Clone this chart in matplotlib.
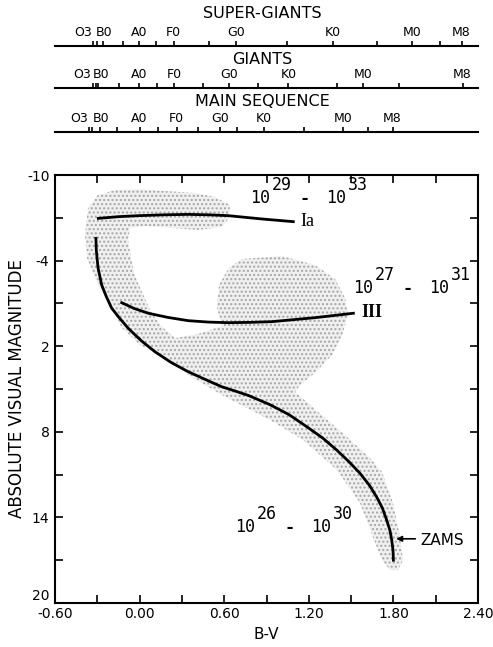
import numpy as np
import matplotlib
matplotlib.use('Agg')
import matplotlib.pyplot as plt

plt.rcParams['axes.unicode_minus'] = False
plt.rcParams['hatch.linewidth'] = 1.0

# ZAMS (zero age main sequence), B-V vs absolute visual magnitude
zams_bv = [-0.31, -0.307, -0.295, -0.269, -0.235, -0.198, -0.14, -0.08, 0.01,
           0.109, 0.225, 0.345, 0.47, 0.582, 0.68, 0.771, 0.925, 1.06, 1.185,
           1.30, 1.398, 1.485, 1.563, 1.63, 1.68, 1.722, 1.752, 1.775, 1.788,
           1.797, 1.80]
zams_mv = [-5.56, -4.7, -3.5, -2.29, -1.45, -0.66, 0.06, 0.75, 1.6,
           2.39, 3.15, 3.79, 4.35, 4.84, 5.15, 5.45, 6.1, 6.8, 7.64,
           8.45, 9.28, 10.1, 10.91, 11.75, 12.55, 13.35, 14.18, 14.9, 15.58,
           16.3, 17.0]

# supergiant (Ia) and giant (III) tracks
ia_bv = [-0.293, -0.15, -0.009, 0.17, 0.345, 0.49, 0.629, 0.866, 1.09]
ia_mv = [-6.96, -7.08, -7.15, -7.21, -7.24, -7.21, -7.15, -6.92, -6.73]
iii_bv = [-0.127, -0.04, 0.062, 0.20, 0.345, 0.49, 0.629, 0.78, 0.937, 1.244, 1.516]
iii_mv = [-1.05, -0.65, -0.31, -0.02, 0.21, 0.31, 0.35, 0.33, 0.28, 0.0, -0.31]

# outline of the stippled region where stars are found
shade_bv = [-0.366, -0.295, -0.174, -0.011, 0.18, 0.393, 0.535, 0.641, 0.634,
            0.584, 0.414, 0.23, 0.038, -0.068, -0.082, -0.061, -0.033, 0.017,
            0.074, 0.145, 0.251, 0.414, 0.584, 0.549, 0.563, 0.634, 0.726,
            1.01, 1.244, 1.386, 1.457, 1.478, 1.435, 1.365, 1.251, 1.138,
            1.102, 1.209, 1.471, 1.634, 1.719, 1.797, 1.847, 1.868, 1.833,
            1.776, 1.719, 1.655, 1.563, 1.40, 1.159, 0.925, 0.57, 0.336,
            0.201, 0.003, -0.125, -0.196, -0.295, -0.373, -0.387]
shade_mv = [-7.69, -8.60, -8.95, -9.02, -8.88, -8.74, -8.46, -7.90, -6.99,
            -6.36, -6.15, -6.29, -6.43, -6.29, -5.44, -4.18, -2.92, -1.80,
            -0.54, 0.51, 1.43, 1.14, 0.58, -0.68, -2.29, -3.48, -4.11,
            -4.32, -3.69, -2.71, -1.38, -0.19, 1.28, 2.62, 3.81, 4.72,
            5.21, 6.12, 8.36, 9.84, 10.82, 12.99, 15.37, 16.99, 17.69,
            17.69, 16.99, 15.37, 12.99, 10.68, 8.57, 7.17, 5.35, 3.95,
            2.83, 1.92, 0.72, -0.68, -2.29, -4.18, -5.79]

# spectral type scales (B-V of tick marks and of the labels)
sg_ticks = [-0.328, -0.30, -0.257, -0.12, -0.002, 0.116, 0.244, 0.494, 0.684,
            1.043, 1.374, 1.681, 1.93, 2.13, 2.284]
sg_names = ['O3', 'B0', 'A0', 'F0', 'G0', 'K0', 'M0', 'M8']
sg_label_bv = [-0.40, -0.25, 0.0, 0.24, 0.685, 1.37, 1.93, 2.28]

g_ticks = [-0.328, -0.311, -0.293, -0.144, -0.002, 0.126, 0.244, 0.452, 0.636,
           0.842, 1.055, 1.398, 1.587, 1.842, 2.291]
g_names = ['O3', 'B0', 'A0', 'F0', 'G0', 'K0', 'M0', 'M8']
g_label_bv = [-0.41, -0.27, 0.0, 0.244, 0.636, 1.055, 1.587, 2.29]

ms_ticks = [-0.357, -0.34, -0.28, -0.158, 0.003, 0.128, 0.263, 0.416, 0.57,
            0.693, 0.882, 1.168, 1.44, 1.618, 1.795]
ms_names = ['O3', 'B0', 'A0', 'F0', 'G0', 'K0', 'M0', 'M8']
ms_label_bv = [-0.43, -0.27, 0.0, 0.26, 0.57, 0.88, 1.44, 1.79]

# flux ranges written on the diagram
flux_labels = [('29', '33'), ('27', '31'), ('26', '30')]
flux_pos = [(0.783, -8.39), (1.513, -2.08), (0.677, 14.67)]


def power_range(ax, x, y, lo, hi):
    kw = dict(textcoords='offset points', va='center', fontsize=12,
              family='DejaVu Sans Mono')
    ax.annotate('10', (x, y), xytext=(0, 0), ha='left', **kw)
    ax.annotate(lo, (x, y), xytext=(15.5, 9.4), ha='left', **kw)
    ax.annotate('-', (x, y), xytext=(39.5, -1), ha='center', fontweight='bold', **kw)
    ax.annotate('10', (x, y), xytext=(54.5, 0), ha='left', **kw)
    ax.annotate(hi, (x, y), xytext=(70.5, 9.4), ha='left', **kw)


fig = plt.figure(figsize=(4.93, 6.47), dpi=100)
ax = fig.add_axes([0.1116, 0.068, 0.858, 0.6615])

ax.fill(shade_bv, shade_mv, facecolor='#f0f0f0', edgecolor='#a6a6a6',
        hatch='....', lw=0)
ax.plot(zams_bv, zams_mv, color='k', lw=2, solid_joinstyle='round')
ax.plot(ia_bv, ia_mv, color='k', lw=2, solid_joinstyle='round')
ax.plot(iii_bv, iii_mv, color='k', lw=2, solid_joinstyle='round')

ax.text(1.138, -6.75, 'Ia', family='Liberation Serif', fontsize=13,
        ha='left', va='center')
ax.text(1.57, -0.33, 'III', family='Liberation Serif', fontsize=13,
        fontweight='bold', ha='left', va='center')

for (lo, hi), (x, y) in zip(flux_labels, flux_pos):
    power_range(ax, x, y, lo, hi)

ax.annotate('', xy=(1.80, 15.5), xytext=(1.975, 15.5),
            arrowprops=dict(arrowstyle='-|>', color='k', lw=1.2, mutation_scale=8))
ax.text(1.99, 15.6, 'ZAMS', fontsize=11, ha='left', va='center')

ax.set_xlim(-0.6, 2.4)
ax.set_ylim(20, -10)
xt = np.round(np.arange(-0.6, 2.41, 0.3), 2)
ax.set_xticks(xt)
ax.set_xticklabels(['%.2f' % v if i % 2 == 0 else '' for i, v in enumerate(xt)])
yt = np.arange(-10, 21, 3)
ax.set_yticks(yt)
ax.set_yticklabels(['%d' % v if i % 2 == 0 else '' for i, v in enumerate(yt)])
ax.tick_params(direction='in', top=True, right=True, length=6, width=1.2,
               labelsize=10)
ax.tick_params(axis='x', pad=3)
ax.tick_params(axis='y', pad=4)
ax.get_yticklabels()[-1].set_va('bottom')
for s in ax.spines.values():
    s.set_linewidth(1.5)
ax.set_xlabel('B-V', fontsize=11, labelpad=4)
ax.set_ylabel('ABSOLUTE VISUAL MAGNITUDE', fontsize=12, labelpad=1)

# spectral type scales above the diagram
ax_s = fig.add_axes([0.1116, 1 - 140 / 647, 0.858, 140 / 647])
ax_s.set_xlim(-0.6, 2.4)
ax_s.set_ylim(140, 0)
ax_s.axis('off')
rows = [(13, 46, 'SUPER-GIANTS', sg_ticks, sg_names, sg_label_bv),
        (60, 88, 'GIANTS', g_ticks, g_names, g_label_bv),
        (102, 131.5, 'MAIN SEQUENCE', ms_ticks, ms_names, ms_label_bv)]
for title_y, line_y, title, ticks, names, label_bv in rows:
    ax_s.plot([-0.6, 2.4], [line_y, line_y], color='k', lw=1.5, clip_on=False)
    ax_s.vlines(ticks, line_y - 5, line_y, color='k', lw=1.2)
    ax_s.text(0.49, title_y, title, transform=ax_s.get_yaxis_transform(),
              ha='center', va='center', fontsize=11.5)
    for n, b in zip(names, label_bv):
        ax_s.text(b, line_y - 13, n, ha='center', va='center', fontsize=9)

fig.savefig('out.png', dpi=100)
